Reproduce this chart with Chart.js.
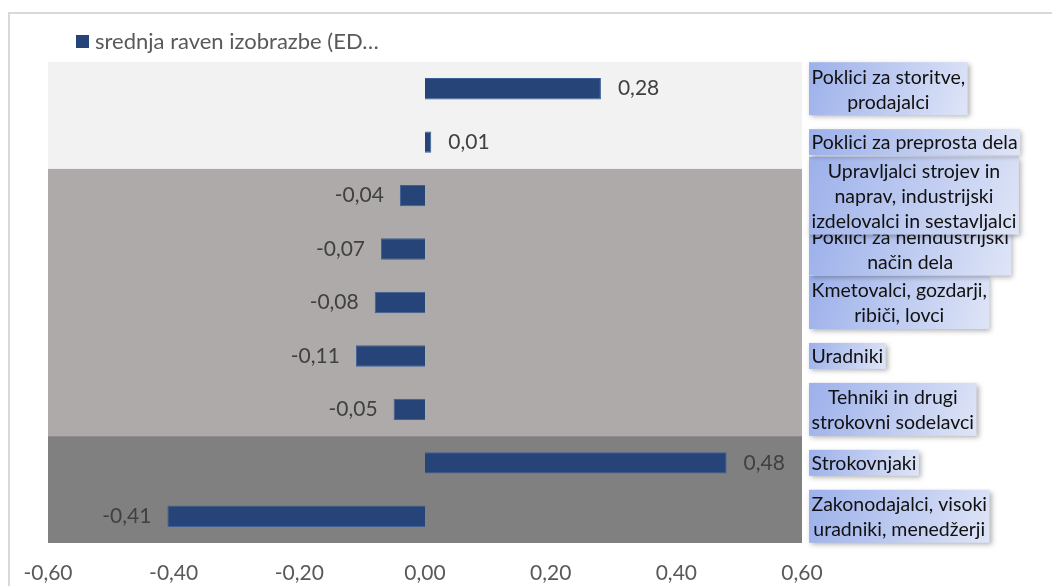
<!DOCTYPE html>
<html>
<head>
<meta charset="utf-8">
<script src="https://cdn.jsdelivr.net/npm/chart.js@4"></script>
<style>
  html, body { margin: 0; padding: 0; background: #fff; }
  #wrap { position: relative; width: 1052px; height: 586px; overflow: hidden; }
  #frame { position: absolute; left: 8px; top: 12px; width: 1100px; height: 700px; border: 2px solid #d9d9d9; box-sizing: border-box; }
  #chart { position: absolute; left: 0; top: 0; }
</style>
</head>
<body>
<div id="wrap">
  <div id="frame"></div>
  <canvas id="chart" width="1052" height="586"></canvas>
</div>
<script>
const seriesName = "srednja raven izobrazbe (ED…";

const categories = [
  ["Poklici za storitve,", "prodajalci"],
  ["Poklici za preprosta dela"],
  ["Upravljalci strojev in", "naprav, industrijski", "izdelovalci in sestavljalci"],
  ["Poklici za neindustrijski", "način dela"],
  ["Kmetovalci, gozdarji,", "ribiči, lovci"],
  ["Uradniki"],
  ["Tehniki in drugi", "strokovni sodelavci"],
  ["Strokovnjaki"],
  ["Zakonodajalci, visoki", "uradniki, menedžerji"],
];

const values = [0.28, 0.01, -0.04, -0.07, -0.08, -0.11, -0.05, 0.48, -0.41];

// background bands: first and last category index of each group
const bandStarts = [0, 2, 7];
const bandEnds = [1, 6, 8];
const bandColors = ["#f2f2f2", "#aeaaaa", "#808080"];

const xTicks = [-0.6, -0.4, -0.2, 0, 0.2, 0.4, 0.6];

const fmt = (v) => (Math.abs(v) < 1e-9 ? 0 : v).toFixed(2).replace(".", ",");

const bandsPlugin = {
  id: "bands",
  beforeDatasetsDraw(chart) {
    const { ctx, chartArea, scales } = chart;
    const y = scales.y;
    const half = (y.getPixelForValue(1) - y.getPixelForValue(0)) / 2;
    ctx.save();
    bandStarts.forEach((start, i) => {
      const top = y.getPixelForValue(start) - half;
      const bottom = y.getPixelForValue(bandEnds[i]) + half;
      ctx.fillStyle = bandColors[i];
      ctx.fillRect(chartArea.left, top, chartArea.right - chartArea.left, bottom - top);
    });
    ctx.restore();
  },
};

const valueLabelsPlugin = {
  id: "valueLabels",
  afterDatasetsDraw(chart) {
    const { ctx } = chart;
    const meta = chart.getDatasetMeta(0);
    ctx.save();
    ctx.font = "21px Lato";
    ctx.fillStyle = "#404040";
    ctx.textBaseline = "middle";
    meta.data.forEach((bar, i) => {
      const v = values[i];
      if (v >= 0) {
        ctx.textAlign = "left";
        ctx.fillText(fmt(v), bar.x + 17, bar.y);
      } else {
        ctx.textAlign = "right";
        ctx.fillText(fmt(v), bar.x - 16, bar.y);
      }
    });
    ctx.restore();
  },
};

const categoryBoxesPlugin = {
  id: "categoryBoxes",
  afterDraw(chart) {
    const { ctx, chartArea, scales } = chart;
    const y = scales.y;
    const lineH = 25;
    const left = chartArea.right + 7;
    ctx.save();
    ctx.font = "19.5px Lato";
    ctx.textBaseline = "middle";
    ctx.textAlign = "center";
    for (let i = categories.length - 1; i >= 0; i--) {
      const lines = categories[i];
      const w = Math.max(...lines.map((l) => ctx.measureText(l).width)) + 5;
      const h = lines.length * lineH + (lines.length > 1 ? 3 : 1);
      const cy = y.getPixelForValue(i);
      const top = cy - h / 2;
      const grad = ctx.createLinearGradient(left, top, left + w, top + h);
      grad.addColorStop(0, "#9cb0ea");
      grad.addColorStop(1, "#dfe5f7");
      ctx.save();
      ctx.shadowColor = "rgba(0,0,0,0.3)";
      ctx.shadowBlur = 5;
      ctx.shadowOffsetX = 2;
      ctx.shadowOffsetY = 2;
      ctx.fillStyle = grad;
      ctx.fillRect(left, top, w, h);
      ctx.restore();
      ctx.fillStyle = "#111";
      lines.forEach((l, k) => {
        ctx.fillText(l, left + w / 2, top + h / 2 + 1 + (k - (lines.length - 1) / 2) * lineH);
      });
    }
    ctx.restore();
  },
};

const legendPlugin = {
  id: "plainLegend",
  afterDraw(chart) {
    const { ctx } = chart;
    const ds = chart.data.datasets[0];
    ctx.save();
    ctx.fillStyle = ds.backgroundColor;
    ctx.fillRect(76, 35, 13, 13);
    ctx.font = "22px Lato";
    ctx.fillStyle = "#595959";
    ctx.textBaseline = "middle";
    ctx.textAlign = "left";
    ctx.fillText(ds.label, 95, 42);
    ctx.restore();
  },
};

new Chart(document.getElementById("chart"), {
  type: "bar",
  data: {
    labels: categories,
    datasets: [
      {
        label: seriesName,
        data: values,
        backgroundColor: "#264478",
        borderColor: "#3d5f99",
        borderWidth: 1,
        barPercentage: 0.8,
        categoryPercentage: 0.5,
      },
    ],
  },
  options: {
    indexAxis: "y",
    responsive: false,
    animation: false,
    layout: { padding: { left: 48, right: 250, top: 62, bottom: 0 } },
    plugins: {
      legend: { display: false },
      tooltip: { enabled: false },
    },
    scales: {
      x: {
        min: -0.6,
        max: 0.6,
        afterBuildTicks: (axis) => {
          axis.ticks = xTicks.map((v) => ({ value: v }));
        },
        afterFit: (axis) => {
          axis.height = 43;
        },
        grid: { display: false, drawTicks: false },
        border: { display: false },
        ticks: {
          padding: 18,
          color: "#595959",
          font: { family: "Lato", size: 21 },
          callback: (v) => fmt(v),
        },
      },
      y: {
        display: false,
      },
    },
  },
  plugins: [bandsPlugin, valueLabelsPlugin, categoryBoxesPlugin, legendPlugin],
});
</script>
</body>
</html>
